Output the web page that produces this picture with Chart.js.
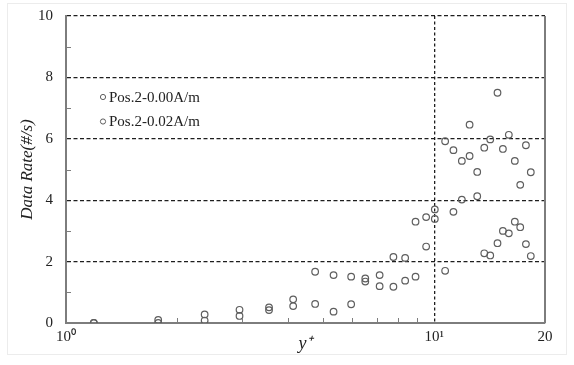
<!DOCTYPE html>
<html>
<head>
<meta charset="utf-8">
<script src="https://cdn.jsdelivr.net/npm/chart.js@4"></script>
<style>
  html, body { margin: 0; padding: 0; background: #ffffff; }
  #wrap { position: relative; width: 574px; height: 365px; }
  #frame { position: absolute; left: 7px; top: 3px; width: 560px; height: 352px; border: 1px solid #ececec; box-sizing: border-box; }
  #c { position: absolute; left: 0; top: 0; }
</style>
</head>
<body>
<div id="wrap">
  <div id="frame"></div>
  <canvas id="c" width="574" height="365"></canvas>
</div>
<script>
// ---- data ----
const yPlus = [1.19, 1.78, 2.38, 2.96, 3.56, 4.14, 4.75, 5.33, 5.95, 6.5, 7.11, 7.75, 8.34, 8.9, 9.51, 10.04, 10.71, 11.28, 11.89, 12.48, 13.09, 13.68, 14.2, 14.86, 15.37, 15.95, 16.56, 17.13, 17.75, 18.3];
const rate000 = [0, 0.1, 0.28, 0.43, 0.51, 0.77, 1.67, 1.56, 1.51, 1.45, 1.56, 2.15, 2.12, 3.3, 3.45, 3.7, 5.92, 5.63, 5.28, 6.46, 4.92, 5.71, 5.98, 7.5, 5.67, 6.13, 5.28, 4.5, 5.79, 4.91];
const rate002 = [0, 0, 0.08, 0.23, 0.42, 0.55, 0.62, 0.37, 0.61, 1.35, 1.2, 1.18, 1.38, 1.51, 2.49, 3.39, 1.7, 3.62, 4.02, 5.44, 4.13, 2.27, 2.2, 2.6, 3.0, 2.92, 3.3, 3.12, 2.57, 2.18];
const seriesLabels = ['Pos.2-0.00A/m', 'Pos.2-0.02A/m'];
const xTickValues = [1, 2, 3, 4, 5, 6, 7, 8, 9, 10, 20];
const xTickLabels = { 1: '10\u2070', 10: '10\u00B9', 20: '20' };
const yTickValues = [0, 1, 2, 3, 4, 5, 6, 7, 8, 9, 10];
const xTitle = 'y\u207A';
const yTitle = 'Data Rate(#/s)';

const SERIF = "'Liberation Serif', 'Times New Roman', serif";
const AXIS_GREY = '#7d7d7d';
const POINT_GREY = '#5e5e5e';
const GRID = '#1e1e1e';
const CLEAR = 'rgba(0,0,0,0)';

const toPoints = (ys) => yPlus.map((x, i) => ({ x: x, y: ys[i] }));

const extras = {
  id: 'extras',
  afterDatasetsDraw(chart) {
    const { ctx, chartArea: a, scales } = chart;
    ctx.save();
    // right frame edge
    ctx.strokeStyle = AXIS_GREY;
    ctx.lineWidth = 2;
    ctx.beginPath();
    ctx.moveTo(a.right, a.top);
    ctx.lineTo(a.right, a.bottom);
    ctx.stroke();
    // inner minor ticks
    ctx.lineWidth = 1;
    ctx.beginPath();
    scales.x.ticks.forEach(t => {
      if (t.value === 1 || t.value === 10 || t.value === 20) return;
      const px = Math.round(scales.x.getPixelForValue(t.value)) + 0.5;
      ctx.moveTo(px, a.bottom);
      ctx.lineTo(px, a.bottom - 5);
    });
    scales.y.ticks.forEach(t => {
      if (t.value % 2 === 0) return;
      const py = Math.round(scales.y.getPixelForValue(t.value)) + 0.5;
      ctx.moveTo(a.left, py);
      ctx.lineTo(a.left + 5, py);
    });
    ctx.stroke();
    // legend inside the plot
    ctx.font = '15px ' + SERIF;
    ctx.textBaseline = 'middle';
    ctx.textAlign = 'left';
    chart.data.datasets.forEach((ds, i) => {
      const cy = a.top + 81 + i * 24.5;
      const cx = a.left + 37;
      ctx.beginPath();
      ctx.strokeStyle = POINT_GREY;
      ctx.lineWidth = 1;
      ctx.arc(cx, cy, 2.6, 0, Math.PI * 2);
      ctx.stroke();
      ctx.fillStyle = '#222';
      ctx.fillText(ds.label, cx + 6, cy + 1);
    });
    ctx.restore();
  }
};

new Chart(document.getElementById('c'), {
  type: 'scatter',
  data: {
    datasets: [
      { label: seriesLabels[0], data: toPoints(rate000), pointRadius: 3.3, pointHoverRadius: 3.3, borderWidth: 1.2, borderColor: POINT_GREY, backgroundColor: CLEAR, pointStyle: 'circle' },
      { label: seriesLabels[1], data: toPoints(rate002), pointRadius: 3.3, pointHoverRadius: 3.3, borderWidth: 1.2, borderColor: POINT_GREY, backgroundColor: CLEAR, pointStyle: 'circle' }
    ]
  },
  options: {
    responsive: false,
    animation: false,
    devicePixelRatio: 1,
    layout: { padding: { top: 16, right: 29, left: 0, bottom: 0 } },
    plugins: { legend: { display: false }, tooltip: { enabled: false } },
    scales: {
      x: {
        type: 'logarithmic',
        min: 1,
        max: 20,
        afterBuildTicks: (s) => { s.ticks = xTickValues.map(v => ({ value: v })); },
        afterFit: (s) => { s.height = 42; },
        ticks: {
          autoSkip: false, maxRotation: 0, minRotation: 0, padding: 0,
          color: '#222', font: { family: SERIF, size: 15 },
          callback: (v) => (xTickLabels[v] !== undefined ? xTickLabels[v] : '')
        },
        grid: {
          drawTicks: true,
          tickLength: 5,
          tickColor: CLEAR,
          lineWidth: 1.3,
          color: (c) => (c.tick && c.tick.value === 10 ? GRID : CLEAR)
        },
        border: { display: true, color: AXIS_GREY, width: 2, dash: [3, 2.5] },
        title: { display: true, text: xTitle, color: '#222', font: { family: SERIF, size: 18, style: 'italic' }, padding: { top: 0, bottom: 10 } }
      },
      y: {
        type: 'linear',
        min: 0,
        max: 10,
        afterBuildTicks: (s) => { s.ticks = yTickValues.map(v => ({ value: v })); },
        afterFit: (s) => { s.width = 66; },
        ticks: {
          padding: 0, color: '#222', font: { family: SERIF, size: 15 },
          callback: (v) => (v % 2 === 0 ? String(v) : '')
        },
        grid: {
          drawTicks: true,
          tickLength: 13,
          tickColor: CLEAR,
          lineWidth: 1.3,
          color: (c) => (c.tick && c.tick.value > 0 && c.tick.value % 2 === 0 ? GRID : CLEAR)
        },
        border: { display: true, color: AXIS_GREY, width: 2, dash: [4, 2.5] },
        title: { display: true, text: yTitle, color: '#222', font: { family: SERIF, size: 17, style: 'italic' }, padding: { top: 17, bottom: 0 } }
      }
    }
  },
  plugins: [extras]
});
</script>
</body>
</html>
